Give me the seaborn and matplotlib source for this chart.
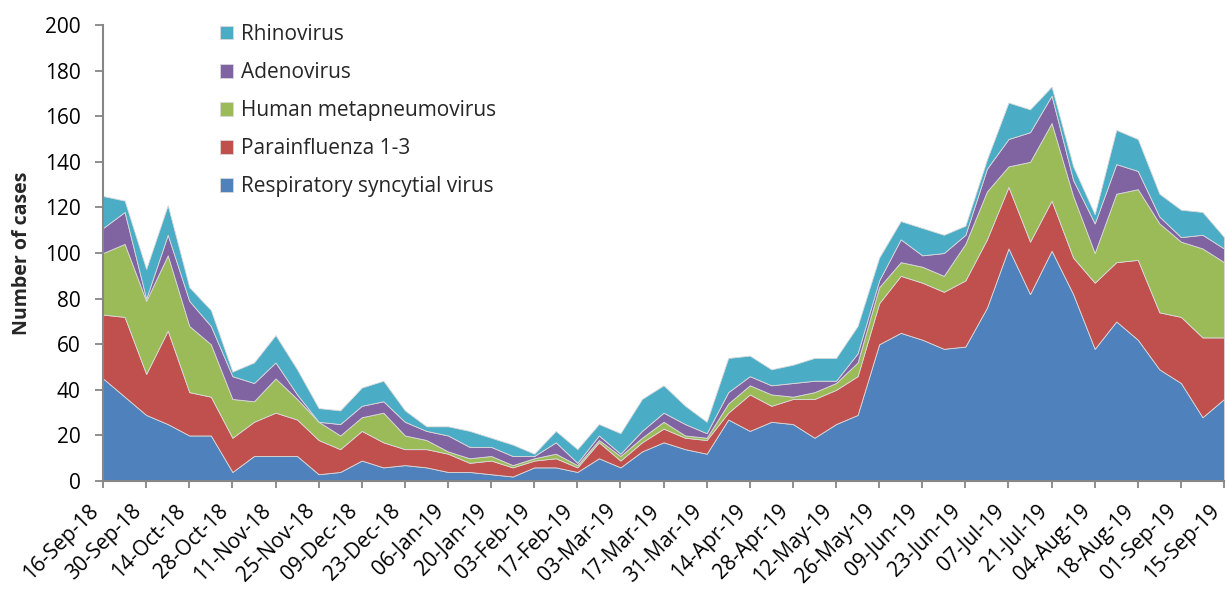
import numpy as np
import pandas as pd
import matplotlib
matplotlib.use("Agg")
import matplotlib.pyplot as plt
import seaborn as sns

weeks = pd.date_range("2018-09-16", periods=53, freq="7D")
week_labels = [d.strftime("%d-%b-%y") for d in weeks]

rsv = [45, 37, 29, 25, 20, 20, 4, 11, 11, 11, 3, 4, 9, 6, 7, 6, 4, 4, 3, 2, 6, 6, 4, 10, 6, 13,
       17, 14, 12, 27, 22, 26, 25, 19, 25, 29, 60, 65, 62, 58, 59, 76, 102, 82, 101, 82, 58, 70,
       62, 49, 43, 28, 36]
para = [28, 35, 18, 41, 19, 17, 15, 15, 19, 16, 15, 10, 13, 11, 7, 8, 8, 4, 6, 4, 3, 4, 2, 7, 3, 4,
        6, 5, 6, 3, 16, 7, 11, 17, 15, 17, 18, 25, 25, 25, 29, 30, 27, 23, 22, 16, 29, 26, 35, 25,
        29, 35, 27]
hmpv = [27, 32, 32, 33, 29, 23, 17, 9, 15, 9, 8, 6, 6, 13, 6, 4, 1, 2, 2, 1, 1, 2, 1, 1, 2, 2,
        3, 1, 1, 4, 4, 5, 1, 3, 3, 6, 7, 6, 7, 7, 16, 21, 9, 35, 34, 27, 13, 30, 31, 39, 33, 39, 33]
adeno = [11, 14, 1, 9, 11, 8, 10, 8, 7, 2, 0, 5, 5, 5, 6, 4, 7, 5, 4, 4, 1, 5, 1, 2, 1, 3,
         4, 5, 2, 5, 4, 4, 6, 5, 1, 4, 3, 10, 5, 10, 4, 10, 12, 13, 12, 7, 13, 13, 8, 3, 2, 6, 6]
rhino = [14, 5, 13, 13, 6, 7, 2, 9, 12, 11, 6, 6, 8, 9, 5, 2, 4, 7, 4, 5, 1, 5, 6, 5, 9, 14,
         12, 8, 5, 15, 9, 7, 8, 10, 10, 12, 10, 8, 12, 8, 4, 4, 16, 10, 4, 6, 4, 15, 14, 10, 12, 10, 5]

series_names = ["Respiratory syncytial virus", "Parainfluenza 1-3", "Human metapneumovirus",
                "Adenovirus", "Rhinovirus"]
colors = ["#4F81BD", "#C0504D", "#9BBB59", "#8064A2", "#4BACC6"]

sns.set_theme(style="white")
plt.rcParams["font.family"] = ["Open Sans", "DejaVu Sans"]

fig = plt.figure(figsize=(12.27, 5.91), dpi=100)
ax = fig.add_axes([0.084, 0.186, 0.9136, 0.7717])

x = np.arange(len(weeks))
ax.stackplot(x, rsv, para, hmpv, adeno, rhino, colors=colors, labels=series_names,
             edgecolor="#d9d9d9", linewidth=0.6)

ax.set_xlim(0, len(weeks) - 1)
ax.set_ylim(0, 200)
ax.set_yticks(range(0, 201, 20))
ax.set_xticks(x[::2])
ax.set_xticklabels(week_labels[::2], rotation=45, ha="right", va="top",
                   rotation_mode="default", fontsize=15)
ax.tick_params(axis="y", labelsize=15, pad=10, length=6)
ax.tick_params(axis="x", pad=9, length=5)
ax.tick_params(axis="both", which="major", direction="out", width=1.3,
               color="#868686", bottom=True, left=True, labelcolor="black")

ax.set_ylabel("Number of cases", fontsize=14, fontweight="bold")
ax.yaxis.set_label_coords(-0.0635, 0.5)

for side in ["top", "right"]:
    ax.spines[side].set_visible(False)
for side in ["left", "bottom"]:
    ax.spines[side].set_color("#868686")
    ax.spines[side].set_linewidth(1.5)

handles, labels = ax.get_legend_handles_labels()
leg = fig.legend(handles[::-1], labels[::-1], loc="upper left",
                 bbox_to_anchor=(220 / 1227, 1 - 24 / 591), bbox_transform=fig.transFigure,
                 frameon=False, fontsize=15, handlelength=0.63, handleheight=0.63,
                 handletextpad=0.4, labelspacing=0.82, borderpad=0, borderaxespad=0)

fig.savefig("out.png", dpi=100)
